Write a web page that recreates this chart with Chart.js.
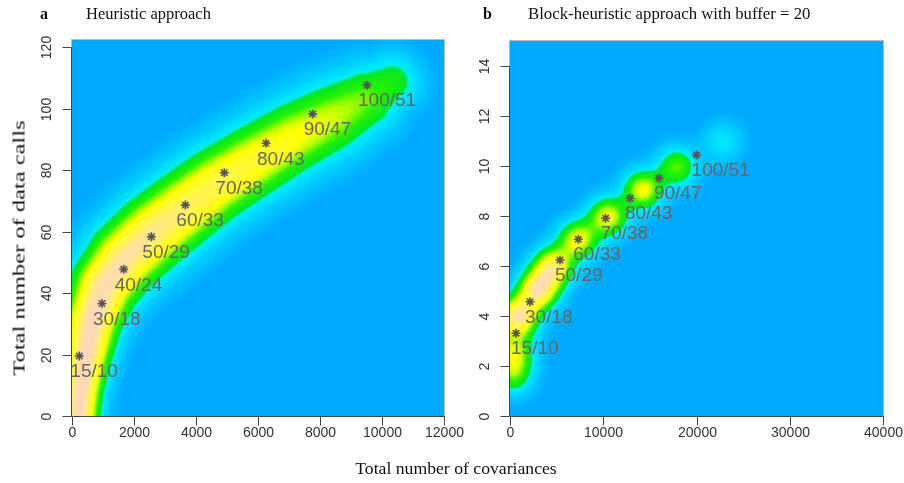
<!DOCTYPE html>
<html>
<head>
<meta charset="utf-8">
<script src="https://cdn.jsdelivr.net/npm/chart.js@4.4.1/dist/chart.umd.min.js"></script>
<style>
  html, body { margin: 0; padding: 0; background: #fff; }
  #wrap { position: relative; width: 904px; height: 483px; overflow: hidden; }
  canvas { position: absolute; top: 0; }
  .t { position: absolute; font: 16px/16px "Liberation Serif", "Times New Roman", serif; color: #111; white-space: nowrap; transform-origin: 0 50%; }
  #ytitle { position: absolute; left: 19px; top: 248px; font: 17px/17px "Liberation Serif", serif; color: #111; white-space: nowrap;
            transform: translate(-50%, -50%) rotate(-90deg) scaleX(1.44); }
  #xtitle { position: absolute; left: 456px; top: 468px; font: 17px/17px "Liberation Serif", serif; color: #111; white-space: nowrap;
            transform: translate(-50%, -50%) scaleX(1.04); }
</style>
</head>
<body>
<div id="wrap">
  <canvas id="chartA" width="472" height="483" style="left:0"></canvas>
  <canvas id="chartB" width="432" height="483" style="left:472px"></canvas>
  <div class="t" style="left:40px;top:6px;font-weight:bold">a</div>
  <div class="t" style="left:86px;top:6px;transform:scaleX(1.03)">Heuristic approach</div>
  <div class="t" style="left:483px;top:6px;font-weight:bold">b</div>
  <div class="t" style="left:528px;top:6px;transform:scaleX(1.048)">Block-heuristic approach with buffer = 20</div>
  <div id="ytitle">Total number of data calls</div>
  <div id="xtitle">Total number of covariances</div>
</div>
<script>
// panel a: heuristic approach
const nA = [15, 30, 40, 50, 60, 70, 80, 90, 100];
const mA = [10, 18, 24, 29, 33, 38, 43, 47, 51];
const covA = [236, 968, 1667, 2559, 3656, 4914, 6259, 7764, 9516];
const callsA = [19.5, 36.6, 47.7, 58.3, 68.6, 79.1, 88.7, 98.2, 107.6];
const xTicksA = [0, 2000, 4000, 6000, 8000, 10000, 12000];
const yTicksA = [0, 20, 40, 60, 80, 100, 120];

// panel b: block-heuristic, buffer = 20
const nB = [15, 30, 50, 60, 70, 80, 90, 100];
const mB = [10, 18, 29, 33, 38, 43, 47, 51];
const covB = [643, 2144, 5360, 7325, 10255, 12864, 15973, 20013];
const callsB = [3.31, 4.57, 6.24, 7.07, 7.91, 8.71, 9.51, 10.44];
const xTicksB = [0, 10000, 20000, 30000, 40000];
const yTicksB = [0, 2, 4, 6, 8, 10, 12, 14];

// density background
const ridgeCovA = [194, 290, 452, 677, 1065, 1710, 2581, 3548, 4613, 5806, 7097, 8387, 9452, 10323];
const ridgeCallsA = [-2.9, 8.5, 19.5, 32, 42.5, 51.3, 59.4, 67, 75, 82.5, 90.3, 97, 103, 108.6];
const ridgeLevelA = [1, 1, 1, 1, 0.97, 0.93, 0.89, 0.84, 0.78, 0.72, 0.65, 0.57, 0.48, 0.36];

const blobCovB = [322, 429, 858, 3003, 4611, 7292, 10510, 14263, 17909, 22842];
const blobCallsB = [1.64, 2.56, 3.96, 5.04, 5.96, 7.04, 7.96, 9.04, 9.96, 10.96];
const blobLevelB = [0.4, 0.5, 0.9, 0.85, 0.75, 0.62, 0.62, 0.62, 0.45, 0.2];

// kernel widths in pixels
const ridgeSpreadA = [13, 14, 16, 19, 22, 24, 25, 25, 25, 25, 25, 25, 23, 19];
const blobSpreadB = 13.5;

const rampStops = [
  [0.00, [0, 170, 255]], [0.02, [0, 172, 255]], [0.04, [0, 184, 255]], [0.08, [0, 197, 255]],
  [0.13, [0, 212, 255]], [0.19, [0, 228, 255]], [0.24, [0, 238, 235]], [0.28, [0, 230, 40]],
  [0.42, [40, 242, 0]], [0.54, [190, 255, 0]], [0.62, [255, 255, 0]], [0.80, [255, 245, 80]],
  [0.92, [255, 225, 160]], [1.00, [255, 215, 185]]
];

function ramp(v) {
  v = Math.max(0, Math.min(1, v));
  for (let i = 1; i < rampStops.length; i++) {
    const [v1, c1] = rampStops[i];
    if (v <= v1) {
      const [v0, c0] = rampStops[i - 1];
      const f = (v - v0) / (v1 - v0);
      return [0, 1, 2].map(k => c0[k] + f * (c1[k] - c0[k]));
    }
  }
  return rampStops[rampStops.length - 1][1];
}

function ridgeValue(p, X, Y) {
  let best = 0;
  for (let k = 0; k < p.length - 1; k++) {
    const A = p[k], B = p[k + 1];
    const dx = B.px - A.px, dy = B.py - A.py;
    let t = ((X - A.px) * dx + (Y - A.py) * dy) / (dx * dx + dy * dy);
    t = Math.max(0, Math.min(1, t));
    const qx = A.px + t * dx - X, qy = A.py + t * dy - Y;
    const s = A.s + t * (B.s - A.s);
    const l = A.lv + t * (B.lv - A.lv);
    const v = l * Math.exp(-(qx * qx + qy * qy) / (2 * s * s));
    if (v > best) best = v;
  }
  return best;
}

function blobValue(p, X, Y) {
  let sum = 0;
  for (const b of p) {
    const dx = b.px - X, dy = b.py - Y;
    sum += b.lv * Math.exp(-(dx * dx + dy * dy) / (2 * b.s * b.s));
  }
  return sum;
}

const heatPlugin = {
  id: 'heat',
  beforeDatasetsDraw(chart, args, o) {
    const { ctx, chartArea: a, scales: { x, y } } = chart;
    const w = Math.round(a.right - a.left), h = Math.round(a.bottom - a.top);
    const pts = o.xs.map((v, i) => ({
      px: x.getPixelForValue(v) - a.left,
      py: y.getPixelForValue(o.ys[i]) - a.top,
      lv: o.levels[i],
      s: Array.isArray(o.spread) ? o.spread[i] : o.spread
    }));
    const off = document.createElement('canvas');
    off.width = w; off.height = h;
    const octx = off.getContext('2d');
    const img = octx.createImageData(w, h);
    const fn = o.mode === 'ridge' ? ridgeValue : blobValue;
    for (let j = 0; j < h; j++) {
      for (let i = 0; i < w; i++) {
        const c = ramp(fn(pts, i + 0.5, j + 0.5));
        const k = (j * w + i) * 4;
        img.data[k] = c[0]; img.data[k + 1] = c[1]; img.data[k + 2] = c[2]; img.data[k + 3] = 255;
      }
    }
    octx.putImageData(img, 0, 0);
    ctx.drawImage(off, a.left, a.top);
  }
};

const labelPlugin = {
  id: 'ptLabels',
  afterDatasetsDraw(chart, args, o) {
    const { ctx } = chart;
    const meta = chart.getDatasetMeta(0);
    ctx.save();
    ctx.font = '19px "Liberation Sans", Arial, sans-serif';
    ctx.fillStyle = '#666';
    ctx.textAlign = 'left';
    ctx.textBaseline = 'middle';
    meta.data.forEach((el, i) => ctx.fillText(o.labels[i], el.x + o.dx, el.y + 16));
    ctx.restore();
  }
};

const axesPlugin = {
  id: 'rAxes',
  afterDraw(chart, args, o) {
    const { ctx, chartArea: a, scales: { x, y } } = chart;
    ctx.save();
    ctx.strokeStyle = '#bbbbbb';
    ctx.lineWidth = 1;
    ctx.strokeRect(Math.round(a.left) - 0.5, Math.round(a.top) - 0.5, Math.round(a.right - a.left) + 1, Math.round(a.bottom - a.top) + 1);

    const xs = o.xTicks.map(v => Math.round(x.getPixelForValue(v)) + 0.5);
    const ys = o.yTicks.map(v => Math.round(y.getPixelForValue(v)) + 0.5);
    const bx = Math.round(a.bottom) + 0.5, lx = Math.round(a.left) - 0.5;
    ctx.strokeStyle = '#444';
    ctx.beginPath();
    ctx.moveTo(xs[0], bx); ctx.lineTo(xs[xs.length - 1], bx);
    xs.forEach(px => { ctx.moveTo(px, bx); ctx.lineTo(px, bx + 9); });
    ctx.moveTo(lx, ys[0]); ctx.lineTo(lx, ys[ys.length - 1]);
    ys.forEach(py => { ctx.moveTo(lx, py); ctx.lineTo(lx - 9, py); });
    ctx.stroke();

    ctx.font = '14px "Liberation Sans", Arial, sans-serif';
    ctx.fillStyle = '#333';
    ctx.textAlign = 'center';
    ctx.textBaseline = 'middle';
    o.xTicks.forEach((v, i) => ctx.fillText(String(v), xs[i], a.bottom + 17));
    o.yTicks.forEach((v, i) => {
      ctx.save();
      ctx.translate(a.left - 25, ys[i]);
      ctx.rotate(-Math.PI / 2);
      ctx.fillText(String(v), 0, 0);
      ctx.restore();
    });
    ctx.restore();
  }
};

function makePanel(id, p) {
  return new Chart(document.getElementById(id), {
    type: 'scatter',
    data: {
      datasets: [{
        data: p.cov.map((v, i) => ({ x: v, y: p.calls[i] })),
        pointStyle: 'star',
        pointRadius: 4.5,
        borderColor: '#555',
        backgroundColor: '#555',
        borderWidth: 1.6
      }]
    },
    options: {
      responsive: false,
      animation: false,
      events: [],
      layout: { padding: p.padding },
      scales: {
        x: { type: 'linear', display: false, min: 0, max: p.xMax },
        y: { type: 'linear', display: false, min: 0, max: p.yMax }
      },
      plugins: {
        legend: { display: false },
        tooltip: { enabled: false },
        heat: p.heat,
        ptLabels: { labels: p.n.map((v, i) => v + '/' + p.m[i]), dx: p.labelDx },
        rAxes: { xTicks: p.xTicks, yTicks: p.yTicks }
      }
    },
    plugins: [heatPlugin, labelPlugin, axesPlugin]
  });
}

makePanel('chartA', {
  n: nA, m: mA, cov: covA, calls: callsA, xTicks: xTicksA, yTicks: yTicksA,
  xMax: 12000, yMax: 122.3, labelDx: -9,
  padding: { left: 72, right: 28, top: 40, bottom: 67 },
  heat: { mode: 'ridge', xs: ridgeCovA, ys: ridgeCallsA, levels: ridgeLevelA, spread: ridgeSpreadA }
});

makePanel('chartB', {
  n: nB, m: mB, cov: covB, calls: callsB, xTicks: xTicksB, yTicks: yTicksB,
  xMax: 40000, yMax: 15, labelDx: -5,
  padding: { left: 38, right: 21, top: 41, bottom: 67 },
  heat: { mode: 'blob', xs: blobCovB, ys: blobCallsB, levels: blobLevelB, spread: blobSpreadB }
});
</script>
</body>
</html>
